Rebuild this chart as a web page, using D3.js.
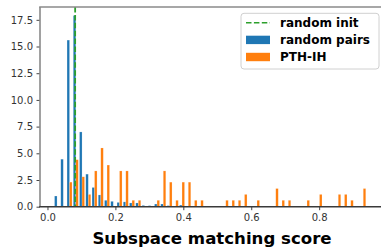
<!DOCTYPE html>
<html>
<head>
<meta charset="utf-8">
<script src="https://cdn.jsdelivr.net/npm/d3@7"></script>
<style>
  body { margin: 0; background: #fff; font-family: "DejaVu Sans", sans-serif; }
  .tick text { font-family: "DejaVu Sans", sans-serif; font-size: 10px; fill: #333; }
</style>
</head>
<body>
<div id="chart"></div>
<script>
// histogram bins (50 equal bins)
const binStart = 0.019;
const binWidth = 0.0184;
const binCount = 50;

// density per bin
const randomPairs = [1.0, 4.45, 15.6, 17.9, 7.0, 3.05, 1.8, 1.1, 0.6, 0.5,
                     0.4, 0.45, 0.35, 0.35, 0.12, 0.1, 0.25, 0.25, 0.1, 0,
                     0.15, 0, 0, 0, 0, 0, 0, 0, 0, 0,
                     0, 0, 0, 0, 0, 0, 0, 0, 0, 0,
                     0, 0, 0, 0, 0, 0, 0, 0, 0, 0];
const pthIH = [0, 0, 2.3, 4.4, 2.8, 1.15, 3.35, 5.5, 3.9, 0,
               3.35, 3.35, 0.6, 0.6, 0, 0, 0.6, 3.35, 2.3, 0.6,
               2.3, 2.3, 0.6, 0.6, 0, 0, 0, 0.6, 0.6, 0.6,
               1.15, 0, 0.6, 0, 0, 1.7, 0.6, 0.6, 0, 0,
               0.6, 0, 1.15, 0, 0, 1.15, 1.15, 0.6, 0, 1.7];
const randomInit = 0.0815;

const xTicks = [0.0, 0.2, 0.4, 0.6, 0.8];
const yTicks = [0, 2.5, 5, 7.5, 10, 12.5, 15, 17.5];
const seriesNames = ["random init", "random pairs", "PTH-IH"];
const colors = { init: "#2ca02c", pairs: "#1f77b4", pth: "#ff7f0e" };

const W = 381, H = 252;
const plotLeft = 40, plotRight = 382, plotTop = 7, plotBottom = 206.7;

const svg = d3.select("#chart").append("svg")
    .attr("width", W)
    .attr("height", H);

const x = d3.scaleLinear().domain([-0.022, 0.985]).range([plotLeft, plotRight]);
const y = d3.scaleLinear().domain([0, 18.7]).range([plotBottom, plotTop]);

// bin centers
const bins = d3.range(binCount).map(i => binStart + binWidth * (i + 0.5));
const barW = 0.4 * binWidth;

// blue bars sit left of the bin center, orange right of it
svg.append("g").selectAll("rect")
    .data(bins.map((c, i) => ({ c, v: randomPairs[i] })).filter(d => d.v > 0))
    .enter().append("rect")
    .attr("x", d => x(d.c - barW))
    .attr("y", d => y(d.v))
    .attr("width", d => x(d.c) - x(d.c - barW))
    .attr("height", d => y(0) - y(d.v))
    .attr("fill", colors.pairs)
    .attr("stroke", "#fff").attr("stroke-opacity", 0.35).attr("stroke-width", 0.5);

svg.append("g").selectAll("rect")
    .data(bins.map((c, i) => ({ c, v: pthIH[i] })).filter(d => d.v > 0))
    .enter().append("rect")
    .attr("x", d => x(d.c))
    .attr("y", d => y(d.v))
    .attr("width", d => x(d.c + barW) - x(d.c))
    .attr("height", d => y(0) - y(d.v))
    .attr("fill", colors.pth)
    .attr("stroke", "#fff").attr("stroke-opacity", 0.35).attr("stroke-width", 0.5);

// random init line
svg.append("line")
    .attr("x1", x(randomInit)).attr("x2", x(randomInit))
    .attr("y1", plotTop).attr("y2", plotBottom)
    .attr("stroke", colors.init)
    .attr("stroke-width", 1.8)
    .attr("stroke-dasharray", "5.5,2.4");

// axes
const yAxis = svg.append("g")
    .attr("transform", `translate(${plotLeft},0)`)
    .call(d3.axisLeft(y).tickValues(yTicks).tickFormat(d3.format(".1f")).tickSize(3.5).tickPadding(3.5));
yAxis.select(".domain").remove();
yAxis.selectAll(".tick line").attr("stroke", "#444");

const xAxis = svg.append("g")
    .attr("transform", `translate(0,${plotBottom})`)
    .call(d3.axisBottom(x).tickValues(xTicks).tickFormat(d3.format(".1f")).tickSize(3.5).tickPadding(3.5));
xAxis.select(".domain").remove();
xAxis.selectAll(".tick line").attr("stroke", "#444");

// spines
svg.append("line").attr("x1", plotLeft).attr("x2", plotLeft).attr("y1", plotTop).attr("y2", plotBottom)
    .attr("stroke", "#8a8a8a").attr("stroke-width", 1.6);
svg.append("line").attr("x1", plotLeft - 0.8).attr("x2", W).attr("y1", plotTop).attr("y2", plotTop)
    .attr("stroke", "#8a8a8a").attr("stroke-width", 1.6);
svg.append("line").attr("x1", plotLeft - 0.8).attr("x2", W).attr("y1", plotBottom).attr("y2", plotBottom)
    .attr("stroke", "#3a3a3a").attr("stroke-width", 1.4);

// x label
svg.append("text")
    .attr("x", 212)
    .attr("y", 243.5)
    .attr("text-anchor", "middle")
    .style("font-family", "DejaVu Sans")
    .style("font-weight", "bold")
    .style("font-size", "16.6px")
    .attr("fill", "#000")
    .text("Subspace matching score");

// legend
const lg = svg.append("g");
lg.append("rect")
    .attr("x", 241).attr("y", 13.3)
    .attr("width", 138).attr("height", 55.7)
    .attr("rx", 3).attr("ry", 3)
    .attr("fill", "#fff").attr("fill-opacity", 0.8)
    .attr("stroke", "#d0d0d0").attr("stroke-width", 1);

const rowY = [22.8, 39.9, 57];
lg.append("line")
    .attr("x1", 246).attr("x2", 270)
    .attr("y1", rowY[0]).attr("y2", rowY[0])
    .attr("stroke", colors.init).attr("stroke-width", 1.5)
    .attr("stroke-dasharray", "5.5,2.4");
lg.append("rect").attr("x", 246).attr("y", rowY[1] - 4.2).attr("width", 24).attr("height", 8.4)
    .attr("fill", colors.pairs);
lg.append("rect").attr("x", 246).attr("y", rowY[2] - 4.2).attr("width", 24).attr("height", 8.4)
    .attr("fill", colors.pth);

lg.selectAll(".legend-label")
    .data(seriesNames)
    .enter().append("text")
    .attr("class", "legend-label")
    .attr("x", 280)
    .attr("y", (d, i) => rowY[i] + 4.2)
    .style("font-family", "DejaVu Sans")
    .style("font-weight", "bold")
    .style("font-size", "12px")
    .attr("fill", "#000")
    .text(d => d);
</script>
</body>
</html>
